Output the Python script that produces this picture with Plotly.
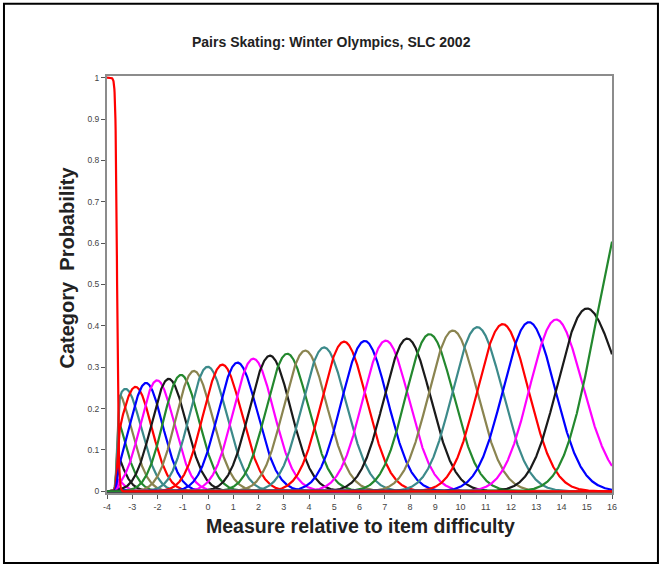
import numpy as np
import plotly.graph_objects as go

# ---- data ----
title_text = "Pairs Skating: Winter Olympics, SLC 2002"
x_title = "Measure relative to item difficulty"
y_title = "Category  Probability"

x_ticks = list(range(-4, 17))
y_ticks = [0, 0.1, 0.2, 0.3, 0.4, 0.5, 0.6, 0.7, 0.8, 0.9, 1]
y_tick_labels = ["0", "0.1", "0.2", "0.3", "0.4", "0.5", "0.6", "0.7", "0.8", "0.9", "1"]

# Rasch-Andrich thresholds between successive observed categories 1..32 (logits)
thresholds = [-4.94, -4.58, -4.22, -3.85, -3.47, -3.09, -2.70, -2.26, -1.80, -1.35,
              -0.85, -0.32, 0.26, 0.85, 1.45, 2.10, 2.78, 3.47, 4.20, 4.95,
              5.79, 6.62, 7.45, 8.30, 9.21, 10.16, 11.15, 12.18, 13.23, 14.31,
              15.40]
# lowest category: where it crosses the rest, and unobserved-category gap
bottom_crossing = -3.60
bottom_gap = 28

colour_cycle = ["#FF0000", "#0000FF", "#FF00FF", "#1A1A1A", "#23882E", "#8A8450", "#3C8A8A"]

# ---- model curves ----
x = np.linspace(-4, 16, 2401)
n_upper = len(thresholds) + 1           # categories 1..32
cum = np.concatenate([[0.0], np.cumsum(thresholds)])
k = np.arange(1, n_upper + 1)
logw = np.outer(x, k) - cum[None, :]
m = logw.max(axis=1, keepdims=True)
L = (m[:, 0] + np.log(np.exp(logw - m).sum(axis=1)))
cond = np.exp(logw - L[:, None])

kk = k.astype(float)
lw0 = bottom_crossing * kk - cum
L0 = lw0.max() + np.log(np.exp(lw0 - lw0.max()).sum())
log_odds = bottom_gap * (x - bottom_crossing) + (L - L0)
p0 = 1.0 / (1.0 + np.exp(np.clip(log_odds, -700, 700)))
probs = [p0] + [(1 - p0) * cond[:, i] for i in range(n_upper)]

fig = go.Figure()
order = list(range(1, len(probs))) + [0]
for c in order:
    fig.add_trace(go.Scatter(x=x, y=probs[c], mode="lines",
                             line=dict(color=colour_cycle[c % 7], width=2.2),
                             showlegend=False, hoverinfo="skip"))

font_family = "Arial, Liberation Sans, sans-serif"
axis_common = dict(showgrid=False, zeroline=False, showline=True, linecolor="#8C8C8C",
                   linewidth=2, mirror=True, ticks="outside", ticklen=4, tickwidth=1,
                   tickcolor="#555555")

fig.update_layout(
    width=662, height=568,
    margin=dict(l=107, r=50, t=76, b=75),
    paper_bgcolor="white", plot_bgcolor="white",
    xaxis=dict(range=[-4, 16], tickmode="array", tickvals=x_ticks,
               ticktext=[str(v) for v in x_ticks],
               tickfont=dict(family=font_family, size=9, color="#444444"), **axis_common),
    yaxis=dict(range=[-0.004, 1.004], tickmode="array", tickvals=y_ticks,
               ticktext=y_tick_labels,
               tickfont=dict(family=font_family, size=8.5, color="#444444"), **axis_common),
    font=dict(family=font_family),
)

fig.add_annotation(text="<b>" + title_text + "</b>", xref="paper", yref="paper",
                   x=0.4455, y=1.0815, showarrow=False, xanchor="center", yanchor="middle",
                   font=dict(family=font_family, size=14, color="#222222"))
fig.add_annotation(text="<b>" + x_title + "</b>", xref="paper", yref="paper",
                   x=0.502, y=-0.08, showarrow=False, xanchor="center", yanchor="middle",
                   font=dict(family=font_family, size=19.5, color="#222222"))
fig.add_annotation(text="<b>" + y_title + "</b>", xref="paper", yref="paper",
                   x=-0.079, y=0.541, showarrow=False, textangle=-90,
                   xanchor="center", yanchor="middle",
                   font=dict(family=font_family, size=20, color="#222222"))

fig.add_shape(type="rect", xref="paper", yref="paper",
              x0=-0.204, x1=1.091, y0=-0.168, y1=1.173,
              line=dict(color="black", width=2), fillcolor="rgba(0,0,0,0)")

fig.write_html("out.html", config={"displayModeBar": False},
               post_script="document.body.style.margin='0';")
